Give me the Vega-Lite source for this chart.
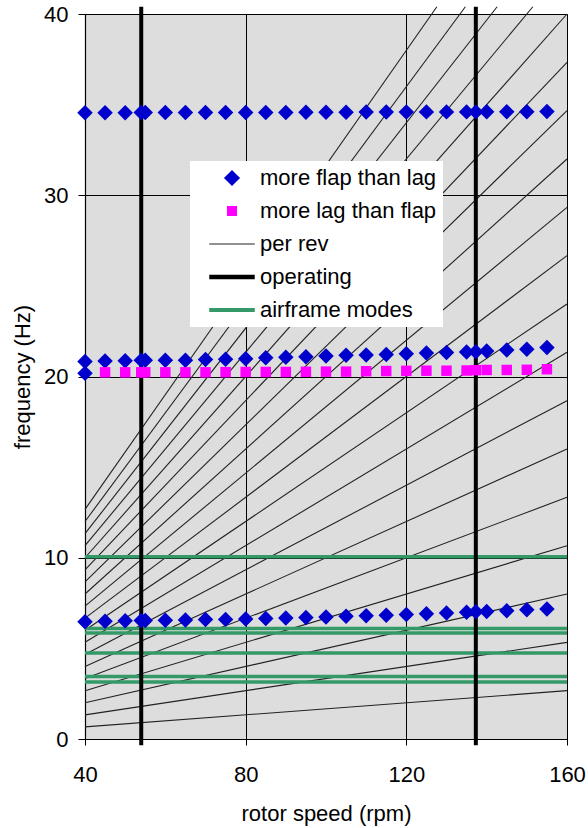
{
  "$schema": "https://vega.github.io/schema/vega-lite/v6.json",
  "width": 482,
  "height": 725,
  "autosize": {"type": "none"},
  "padding": {"left": 85, "top": 14, "right": 21, "bottom": 89},
  "background": "white",
  "config": {
    "view": {"stroke": "#666666", "fill": "#DDDDDD"},
    "font": "Liberation Sans",
    "axis": {
      "labelFont": "Liberation Sans",
      "titleFont": "Liberation Sans",
      "labelFontSize": 22,
      "titleFontSize": 22,
      "titleFontWeight": "normal",
      "labelColor": "#000000",
      "titleColor": "#000000",
      "domainColor": "#000000",
      "tickColor": "#000000",
      "gridColor": "#000000",
      "gridWidth": 1,
      "gridOpacity": 1,
      "domainWidth": 1.2,
      "labelFlush": false
    }
  },
  "datasets": {
    "perrev": [
      {"n": 1, "rpm": 40, "f": 0.667}, {"n": 1, "rpm": 160, "f": 2.667},
      {"n": 2, "rpm": 40, "f": 1.333}, {"n": 2, "rpm": 160, "f": 5.333},
      {"n": 3, "rpm": 40, "f": 2.0}, {"n": 3, "rpm": 160, "f": 8.0},
      {"n": 4, "rpm": 40, "f": 2.667}, {"n": 4, "rpm": 160, "f": 10.667},
      {"n": 5, "rpm": 40, "f": 3.333}, {"n": 5, "rpm": 160, "f": 13.333},
      {"n": 6, "rpm": 40, "f": 4.0}, {"n": 6, "rpm": 160, "f": 16.0},
      {"n": 7, "rpm": 40, "f": 4.667}, {"n": 7, "rpm": 160, "f": 18.667},
      {"n": 8, "rpm": 40, "f": 5.333}, {"n": 8, "rpm": 160, "f": 21.333},
      {"n": 9, "rpm": 40, "f": 6.0}, {"n": 9, "rpm": 160, "f": 24.0},
      {"n": 10, "rpm": 40, "f": 6.667}, {"n": 10, "rpm": 160, "f": 26.667},
      {"n": 11, "rpm": 40, "f": 7.333}, {"n": 11, "rpm": 160, "f": 29.333},
      {"n": 12, "rpm": 40, "f": 8.0}, {"n": 12, "rpm": 160, "f": 32.0},
      {"n": 13, "rpm": 40, "f": 8.667}, {"n": 13, "rpm": 160, "f": 34.667},
      {"n": 14, "rpm": 40, "f": 9.333}, {"n": 14, "rpm": 160, "f": 37.333},
      {"n": 15, "rpm": 40, "f": 10.0}, {"n": 15, "rpm": 160, "f": 40.0},
      {"n": 16, "rpm": 40, "f": 10.667}, {"n": 16, "rpm": 151.5, "f": 40.4},
      {"n": 17, "rpm": 40, "f": 11.333}, {"n": 17, "rpm": 142.6, "f": 40.4},
      {"n": 18, "rpm": 40, "f": 12.0}, {"n": 18, "rpm": 134.7, "f": 40.4},
      {"n": 19, "rpm": 40, "f": 12.667}, {"n": 19, "rpm": 127.6, "f": 40.4}
    ],
    "modes": [{"f": 10.05}, {"f": 6.1}, {"f": 5.85}, {"f": 4.75}, {"f": 3.45}, {"f": 3.15}],
    "op": [{"rpm": 54}, {"rpm": 137.3}],
    "pts": [
      {"rpm": 40, "f": 6.47, "series": "more flap than lag"},
      {"rpm": 45, "f": 6.5, "series": "more flap than lag"},
      {"rpm": 50, "f": 6.52, "series": "more flap than lag"},
      {"rpm": 54, "f": 6.54, "series": "more flap than lag"},
      {"rpm": 55, "f": 6.54, "series": "more flap than lag"},
      {"rpm": 60, "f": 6.55, "series": "more flap than lag"},
      {"rpm": 65, "f": 6.57, "series": "more flap than lag"},
      {"rpm": 70, "f": 6.59, "series": "more flap than lag"},
      {"rpm": 75, "f": 6.6, "series": "more flap than lag"},
      {"rpm": 80, "f": 6.62, "series": "more flap than lag"},
      {"rpm": 85, "f": 6.65, "series": "more flap than lag"},
      {"rpm": 90, "f": 6.67, "series": "more flap than lag"},
      {"rpm": 95, "f": 6.71, "series": "more flap than lag"},
      {"rpm": 100, "f": 6.73, "series": "more flap than lag"},
      {"rpm": 105, "f": 6.77, "series": "more flap than lag"},
      {"rpm": 110, "f": 6.8, "series": "more flap than lag"},
      {"rpm": 115, "f": 6.83, "series": "more flap than lag"},
      {"rpm": 120, "f": 6.87, "series": "more flap than lag"},
      {"rpm": 125, "f": 6.91, "series": "more flap than lag"},
      {"rpm": 130, "f": 6.95, "series": "more flap than lag"},
      {"rpm": 135, "f": 6.99, "series": "more flap than lag"},
      {"rpm": 137.3, "f": 7.02, "series": "more flap than lag"},
      {"rpm": 140, "f": 7.04, "series": "more flap than lag"},
      {"rpm": 145, "f": 7.08, "series": "more flap than lag"},
      {"rpm": 150, "f": 7.13, "series": "more flap than lag"},
      {"rpm": 155, "f": 7.17, "series": "more flap than lag"},
      {"rpm": 40, "f": 20.18, "series": "more flap than lag"},
      {"rpm": 40, "f": 20.83, "series": "more flap than lag"},
      {"rpm": 45, "f": 20.86, "series": "more flap than lag"},
      {"rpm": 50, "f": 20.87, "series": "more flap than lag"},
      {"rpm": 54, "f": 20.9, "series": "more flap than lag"},
      {"rpm": 55, "f": 20.9, "series": "more flap than lag"},
      {"rpm": 60, "f": 20.89, "series": "more flap than lag"},
      {"rpm": 65, "f": 20.9, "series": "more flap than lag"},
      {"rpm": 70, "f": 20.94, "series": "more flap than lag"},
      {"rpm": 75, "f": 20.95, "series": "more flap than lag"},
      {"rpm": 80, "f": 20.98, "series": "more flap than lag"},
      {"rpm": 85, "f": 21.04, "series": "more flap than lag"},
      {"rpm": 90, "f": 21.06, "series": "more flap than lag"},
      {"rpm": 95, "f": 21.09, "series": "more flap than lag"},
      {"rpm": 100, "f": 21.13, "series": "more flap than lag"},
      {"rpm": 105, "f": 21.17, "series": "more flap than lag"},
      {"rpm": 110, "f": 21.19, "series": "more flap than lag"},
      {"rpm": 115, "f": 21.21, "series": "more flap than lag"},
      {"rpm": 120, "f": 21.26, "series": "more flap than lag"},
      {"rpm": 125, "f": 21.3, "series": "more flap than lag"},
      {"rpm": 130, "f": 21.32, "series": "more flap than lag"},
      {"rpm": 135, "f": 21.35, "series": "more flap than lag"},
      {"rpm": 137.3, "f": 21.36, "series": "more flap than lag"},
      {"rpm": 140, "f": 21.41, "series": "more flap than lag"},
      {"rpm": 145, "f": 21.46, "series": "more flap than lag"},
      {"rpm": 150, "f": 21.5, "series": "more flap than lag"},
      {"rpm": 155, "f": 21.6, "series": "more flap than lag"},
      {"rpm": 40, "f": 34.55, "series": "more flap than lag"},
      {"rpm": 45, "f": 34.55, "series": "more flap than lag"},
      {"rpm": 50, "f": 34.55, "series": "more flap than lag"},
      {"rpm": 54, "f": 34.56, "series": "more flap than lag"},
      {"rpm": 55, "f": 34.56, "series": "more flap than lag"},
      {"rpm": 60, "f": 34.56, "series": "more flap than lag"},
      {"rpm": 65, "f": 34.56, "series": "more flap than lag"},
      {"rpm": 70, "f": 34.56, "series": "more flap than lag"},
      {"rpm": 75, "f": 34.57, "series": "more flap than lag"},
      {"rpm": 80, "f": 34.57, "series": "more flap than lag"},
      {"rpm": 85, "f": 34.57, "series": "more flap than lag"},
      {"rpm": 90, "f": 34.57, "series": "more flap than lag"},
      {"rpm": 95, "f": 34.58, "series": "more flap than lag"},
      {"rpm": 100, "f": 34.58, "series": "more flap than lag"},
      {"rpm": 105, "f": 34.58, "series": "more flap than lag"},
      {"rpm": 110, "f": 34.59, "series": "more flap than lag"},
      {"rpm": 115, "f": 34.59, "series": "more flap than lag"},
      {"rpm": 120, "f": 34.59, "series": "more flap than lag"},
      {"rpm": 125, "f": 34.6, "series": "more flap than lag"},
      {"rpm": 130, "f": 34.6, "series": "more flap than lag"},
      {"rpm": 135, "f": 34.6, "series": "more flap than lag"},
      {"rpm": 137.3, "f": 34.6, "series": "more flap than lag"},
      {"rpm": 140, "f": 34.61, "series": "more flap than lag"},
      {"rpm": 145, "f": 34.61, "series": "more flap than lag"},
      {"rpm": 150, "f": 34.61, "series": "more flap than lag"},
      {"rpm": 155, "f": 34.62, "series": "more flap than lag"},
      {"rpm": 45, "f": 20.23, "series": "more lag than flap"},
      {"rpm": 50, "f": 20.23, "series": "more lag than flap"},
      {"rpm": 54, "f": 20.23, "series": "more lag than flap"},
      {"rpm": 55, "f": 20.23, "series": "more lag than flap"},
      {"rpm": 60, "f": 20.23, "series": "more lag than flap"},
      {"rpm": 65, "f": 20.23, "series": "more lag than flap"},
      {"rpm": 70, "f": 20.23, "series": "more lag than flap"},
      {"rpm": 75, "f": 20.24, "series": "more lag than flap"},
      {"rpm": 80, "f": 20.25, "series": "more lag than flap"},
      {"rpm": 85, "f": 20.25, "series": "more lag than flap"},
      {"rpm": 90, "f": 20.25, "series": "more lag than flap"},
      {"rpm": 95, "f": 20.26, "series": "more lag than flap"},
      {"rpm": 100, "f": 20.27, "series": "more lag than flap"},
      {"rpm": 105, "f": 20.27, "series": "more lag than flap"},
      {"rpm": 110, "f": 20.29, "series": "more lag than flap"},
      {"rpm": 115, "f": 20.3, "series": "more lag than flap"},
      {"rpm": 120, "f": 20.31, "series": "more lag than flap"},
      {"rpm": 125, "f": 20.32, "series": "more lag than flap"},
      {"rpm": 130, "f": 20.32, "series": "more lag than flap"},
      {"rpm": 135, "f": 20.33, "series": "more lag than flap"},
      {"rpm": 137.3, "f": 20.35, "series": "more lag than flap"},
      {"rpm": 140, "f": 20.36, "series": "more lag than flap"},
      {"rpm": 145, "f": 20.36, "series": "more lag than flap"},
      {"rpm": 150, "f": 20.37, "series": "more lag than flap"},
      {"rpm": 155, "f": 20.4, "series": "more lag than flap"}
    ]
  },
  "resolve": {"scale": {"color": "shared"}},
  "layer": [
    {
      "data": {"name": "perrev"},
      "mark": {"type": "line", "strokeWidth": 1.1, "clip": false},
      "encoding": {
        "x": {
          "field": "rpm", "type": "quantitative",
          "scale": {"domain": [40, 160], "nice": false, "zero": false},
          "axis": {
            "title": "rotor speed (rpm)",
            "values": [40, 80, 120, 160],
            "grid": true,
            "tickSize": 6,
            "labelPadding": 19,
            "titleBaseline": "alphabetic",
            "titleY": 81
          }
        },
        "y": {
          "field": "f", "type": "quantitative",
          "scale": {"domain": [0, 40], "nice": false},
          "axis": {
            "title": "frequency (Hz)",
            "values": [0, 10, 20, 30, 40],
            "grid": true,
            "tickSize": 7,
            "labelPadding": 10,
            "titleBaseline": "alphabetic",
            "titleX": -56
          }
        },
        "detail": {"field": "n"},
        "color": {
          "datum": "per rev",
          "type": "nominal",
          "title": null,
          "scale": {
            "domain": ["more flap than lag", "more lag than flap", "per rev", "operating", "airframe modes"],
            "range": ["#0000CC", "#FF00FF", "#222222", "#000000", "#339966"]
          },
          "legend": {
            "title": null,
            "orient": "none",
            "legendX": 105,
            "legendY": 147,
            "fillColor": "#FFFFFF",
            "padding": 6,
            "labelFont": "Liberation Sans",
            "labelFontSize": 22,
            "labelColor": "#000000",
            "labelLimit": 400,
            "rowPadding": 11,
            "symbolSize": 169,
            "symbolOffset": 25,
            "labelOffset": 17,
            "encode": {
              "symbols": {
                "update": {
                  "shape": {"signal": "datum.value == 'more flap than lag' ? 'diamond' : datum.value == 'more lag than flap' ? 'M-0.77,-0.77H0.77V0.77H-0.77Z' : 'M-3.5,0H3.5'"},
                  "size": {"signal": "datum.value == 'more flap than lag' ? 260 : 169"},
                  "fill": {"signal": "datum.value == 'more flap than lag' ? '#0000CC' : datum.value == 'more lag than flap' ? '#FF00FF' : 'transparent'"},
                  "stroke": {"signal": "datum.value == 'per rev' ? '#555555' : datum.value == 'operating' ? '#000000' : datum.value == 'airframe modes' ? '#339966' : 'transparent'"},
                  "strokeWidth": {"signal": "datum.value == 'per rev' ? 1 : datum.value == 'operating' ? 4.5 : datum.value == 'airframe modes' ? 4 : 0"},
                  "opacity": {"value": 1},
                  "fillOpacity": {"value": 1},
                  "strokeOpacity": {"value": 1}
                }
              }
            }
          }
        }
      }
    },
    {
      "data": {"name": "modes"},
      "mark": {"type": "rule", "strokeWidth": 3.5},
      "encoding": {
        "y": {"field": "f", "type": "quantitative"},
        "color": {"datum": "airframe modes", "type": "nominal", "title": null}
      }
    },
    {
      "data": {"name": "op"},
      "mark": {"type": "rule", "strokeWidth": 4, "clip": false},
      "encoding": {
        "x": {"field": "rpm", "type": "quantitative"},
        "y": {"datum": -0.35},
        "y2": {"datum": 40.4},
        "color": {"datum": "operating", "type": "nominal", "title": null}
      }
    },
    {
      "data": {"name": "pts"},
      "mark": {"type": "point", "filled": true, "opacity": 1},
      "encoding": {
        "x": {"field": "rpm", "type": "quantitative"},
        "y": {"field": "f", "type": "quantitative"},
        "color": {"field": "series", "type": "nominal", "title": null},
        "shape": {
          "field": "series", "type": "nominal",
          "scale": {"domain": ["more flap than lag", "more lag than flap"], "range": ["diamond", "square"]},
          "legend": null
        },
        "size": {
          "field": "series", "type": "nominal",
          "scale": {"domain": ["more flap than lag", "more lag than flap"], "range": [240, 110]},
          "legend": null
        }
      }
    }
  ]
}
